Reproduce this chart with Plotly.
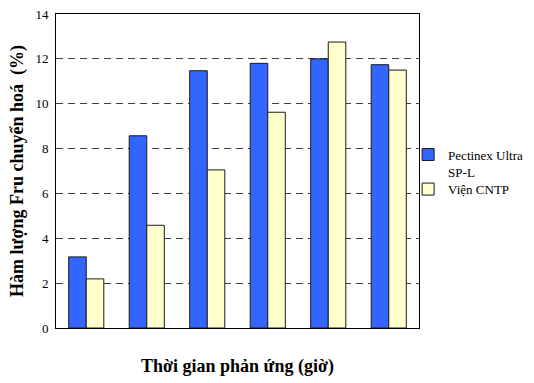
import plotly.graph_objects as go

# Reaction time points (labels are not printed on the axis)
thoi_gian = ["1", "2", "3", "4", "5", "6"]
pectinex = [3.17, 8.57, 11.47, 11.8, 12.0, 11.74]
vien_cntp = [2.19, 4.58, 7.05, 9.62, 12.75, 11.5]

font_family = "Liberation Serif"
legend_style = dict(
    xanchor="left", yanchor="top",
    font=dict(family=font_family, size=13),
    valign="top", itemwidth=30,
    bgcolor="rgba(0,0,0,0)",
)

fig = go.Figure()
fig.add_trace(go.Bar(
    x=thoi_gian, y=pectinex, name="Pectinex Ultra<br>SP-L",
    marker=dict(color="#3366FF", line=dict(color="#1a1a1a", width=1)),
    legend="legend", showlegend=True,
))
fig.add_trace(go.Bar(
    x=thoi_gian, y=vien_cntp, name="Viện CNTP",
    marker=dict(color="#FFFFCC", line=dict(color="#1a1a1a", width=1)),
    legend="legend2", showlegend=True,
))

fig.update_layout(
    width=534, height=383,
    margin=dict(l=56, r=115, t=14, b=55, autoexpand=False),
    paper_bgcolor="white", plot_bgcolor="white",
    showlegend=True,
    barmode="group", bargap=0.42, bargroupgap=0,
    font=dict(family=font_family, color="black"),
    legend=dict(x=0.97, y=0.6, **legend_style),
    legend2=dict(x=0.97, y=0.49, **legend_style),
    xaxis=dict(
        showticklabels=False, ticks="",
        showline=True, linecolor="black", linewidth=1, mirror=True,
        title=dict(text="<b>Thời gian phản ứng (giờ)</b>",
                   font=dict(family=font_family, size=18), standoff=31),
    ),
    yaxis=dict(
        range=[0, 14], dtick=2,
        ticks="outside", ticklen=4, tickcolor="rgba(0,0,0,0)",
        tickfont=dict(family=font_family, size=13),
        showline=True, linecolor="black", linewidth=1, mirror=True,
        showgrid=True, gridcolor="#404040", griddash="7px,5px", gridwidth=1,
        zeroline=False,
        title=dict(text="<b>Hàm lượng Fru chuyển hoá  (%)</b>",
                   font=dict(family=font_family, size=18), standoff=7),
    ),
)

fig.write_html("out.html")
